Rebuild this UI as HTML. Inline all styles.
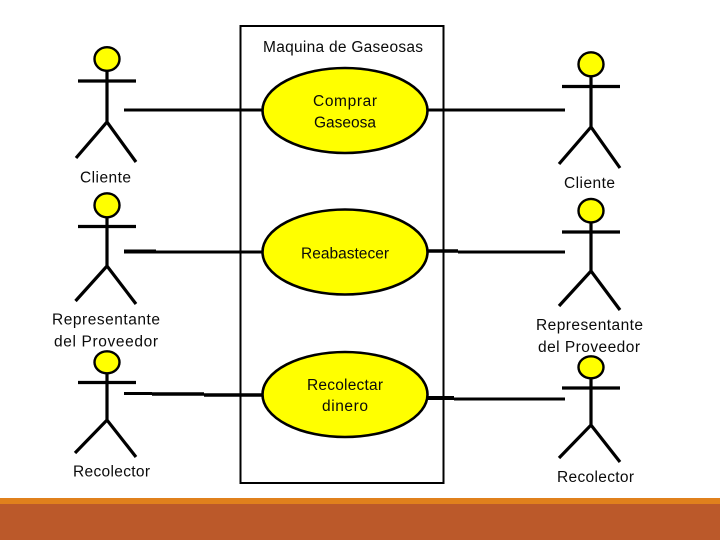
<!DOCTYPE html>
<html>
<head>
<meta charset="utf-8">
<style>
html,body{margin:0;padding:0;background:#fff;width:720px;height:540px;overflow:hidden}
svg{display:block}
text{font-family:"Liberation Sans",sans-serif;font-size:15.5px;fill:#0a0a0a}
.k{stroke:#000;fill:none;stroke-width:3.2}
.h{fill:#ffff00;stroke:#000;stroke-width:2.4}
</style>
</head>
<body>
<svg width="720" height="540" viewBox="0 0 720 540" xmlns="http://www.w3.org/2000/svg">
<rect x="0" y="0" width="720" height="540" fill="#fff"/>
<rect x="0" y="498" width="720" height="6" fill="#e0801c"/>
<rect x="0" y="504" width="720" height="36" fill="#bb592a"/>
<rect x="240.500" y="26" width="203" height="457" fill="none" stroke="#000" stroke-width="2"/>

<g stroke="#000" stroke-width="3">
<line x1="124" y1="110" x2="262" y2="110"/>
<line x1="428" y1="110" x2="565" y2="110"/>
<line x1="124" y1="251.500" x2="156" y2="251.500" stroke-width="4"/>
<line x1="156" y1="252" x2="262" y2="252"/>
<line x1="428" y1="251" x2="458" y2="251" stroke-width="3.600"/>
<line x1="458" y1="252" x2="565" y2="252"/>
<line x1="124" y1="393.500" x2="152" y2="393.500"/>
<line x1="152" y1="394" x2="204" y2="394" stroke-width="3.600"/>
<line x1="204" y1="395" x2="262" y2="395" stroke-width="3.600"/>
<line x1="428" y1="398" x2="454" y2="398" stroke-width="4"/>
<line x1="454" y1="399" x2="565" y2="399"/>
</g>

<ellipse cx="345" cy="110.500" rx="82.500" ry="42.500" fill="#ffff00" stroke="#000" stroke-width="2.600"/>
<ellipse cx="345" cy="252" rx="82.500" ry="42.500" fill="#ffff00" stroke="#000" stroke-width="2.600"/>
<ellipse cx="345" cy="394.500" rx="82.500" ry="42.500" fill="#ffff00" stroke="#000" stroke-width="2.600"/>

<g class="k">
<path d="M107 70V122M78 81H136M76 158L107 122L136 162"/>
<path d="M107 216V266M78 226.500H136M75.500 301L107 266L136 304"/>
<path d="M107 372V420M78 382.500H136M75 453L107 420L136 457"/>
<path d="M591 75V127M562 86.500H620M559 164L591 127L620 168"/>
<path d="M591 222V271M562 232H620M559 306L591 271L620 310"/>
<path d="M591 378V425M562 388H620M559 458L591 425L620 462"/>
</g>
<ellipse class="h" cx="107" cy="59" rx="12.500" ry="11.800"/>
<ellipse class="h" cx="107" cy="205.300" rx="12.500" ry="12"/>
<ellipse class="h" cx="107" cy="362.300" rx="12.500" ry="11"/>
<ellipse class="h" cx="591" cy="64.300" rx="12.500" ry="12"/>
<ellipse class="h" cx="591" cy="210.700" rx="12.500" ry="11.800"/>
<ellipse class="h" cx="591" cy="367.300" rx="12.500" ry="11"/>

<text x="263" y="52" textLength="160" lengthAdjust="spacing">Maquina de Gaseosas</text>
<text x="313" y="106" textLength="64" lengthAdjust="spacing">Comprar</text>
<text x="314" y="127.500" textLength="62" lengthAdjust="spacing">Gaseosa</text>
<text x="301" y="258.500" textLength="88" lengthAdjust="spacing">Reabastecer</text>
<text x="307" y="390" textLength="76" lengthAdjust="spacing">Recolectar</text>
<text x="322" y="411" textLength="46" lengthAdjust="spacing">dinero</text>
<text x="80" y="182.500" textLength="51" lengthAdjust="spacing">Cliente</text>
<text x="564" y="188" textLength="51" lengthAdjust="spacing">Cliente</text>
<text x="52" y="324.500" textLength="108" lengthAdjust="spacing">Representante</text>
<text x="54" y="346.500" textLength="104" lengthAdjust="spacing">del Proveedor</text>
<text x="536" y="330" textLength="107" lengthAdjust="spacing">Representante</text>
<text x="538" y="352" textLength="102" lengthAdjust="spacing">del Proveedor</text>
<text x="73" y="476.500" textLength="77" lengthAdjust="spacing">Recolector</text>
<text x="557" y="482" textLength="77" lengthAdjust="spacing">Recolector</text>
</svg>
</body>
</html>
